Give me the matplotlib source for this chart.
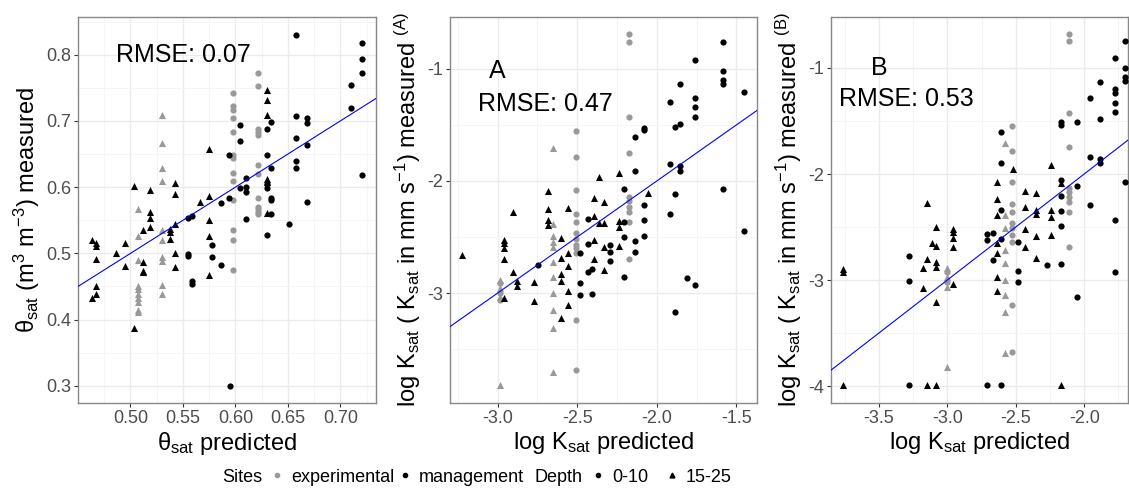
import matplotlib
matplotlib.use("Agg")
import matplotlib.pyplot as plt
from matplotlib.lines import Line2D
from matplotlib.ticker import MultipleLocator, FixedLocator, FormatStrFormatter
import numpy as np

plt.rcParams["font.family"] = ["Liberation Sans", "DejaVu Sans"]
plt.rcParams["mathtext.fontset"] = "custom"
plt.rcParams["mathtext.rm"] = "Liberation Sans"
plt.rcParams["mathtext.it"] = "Liberation Sans:italic"
plt.rcParams["axes.unicode_minus"] = False

# ---- panel 1: theta_sat (predicted, measured) ----
theta_exp_top = [(0.598, v) for v in [0.742, 0.723, 0.717, 0.705, 0.683, 0.649, 0.644, 0.621,
                                      0.609, 0.580, 0.536, 0.520, 0.475]] + \
                [(0.622, v) for v in [0.773, 0.753, 0.688, 0.684, 0.679, 0.634, 0.620, 0.583,
                                      0.570, 0.567, 0.562, 0.559]]
theta_exp_sub = [(0.507, v) for v in [0.567, 0.526, 0.490, 0.451, 0.446, 0.439, 0.433, 0.427,
                                      0.414, 0.411]] + \
                [(0.530, v) for v in [0.709, 0.666, 0.629, 0.609, 0.535, 0.520, 0.494, 0.489,
                                      0.452, 0.439]]
theta_man_sub = [(0.463, 0.520), (0.467, 0.516), (0.467, 0.511), (0.467, 0.491), (0.467, 0.451),
                 (0.467, 0.439), (0.463, 0.433), (0.486, 0.500), (0.495, 0.516), (0.495, 0.481),
                 (0.503, 0.601), (0.503, 0.388), (0.512, 0.536), (0.512, 0.487), (0.512, 0.474),
                 (0.512, 0.472), (0.519, 0.596), (0.519, 0.562), (0.519, 0.554), (0.519, 0.540),
                 (0.538, 0.537), (0.538, 0.533), (0.538, 0.522), (0.542, 0.545), (0.542, 0.607),
                 (0.542, 0.589), (0.542, 0.501), (0.542, 0.479), (0.566, 0.578), (0.575, 0.657),
                 (0.575, 0.587), (0.575, 0.551), (0.575, 0.526), (0.575, 0.468), (0.630, 0.746),
                 (0.630, 0.732), (0.630, 0.709), (0.630, 0.612), (0.630, 0.608), (0.630, 0.561)]
theta_man_top = [(0.555, 0.553), (0.559, 0.556), (0.555, 0.499), (0.555, 0.496), (0.559, 0.459),
                 (0.559, 0.453), (0.578, 0.512), (0.578, 0.495), (0.586, 0.576), (0.586, 0.483),
                 (0.594, 0.649), (0.594, 0.583), (0.595, 0.300), (0.604, 0.694), (0.604, 0.669),
                 (0.604, 0.598), (0.610, 0.614), (0.610, 0.600), (0.610, 0.593), (0.610, 0.552),
                 (0.630, 0.688), (0.630, 0.648), (0.630, 0.605), (0.630, 0.599), (0.630, 0.528),
                 (0.634, 0.698), (0.634, 0.629), (0.634, 0.583), (0.634, 0.580), (0.634, 0.560),
                 (0.651, 0.545), (0.658, 0.830), (0.658, 0.708), (0.658, 0.675), (0.658, 0.639),
                 (0.658, 0.629), (0.668, 0.705), (0.668, 0.697), (0.668, 0.664), (0.668, 0.578),
                 (0.710, 0.755), (0.710, 0.719), (0.721, 0.817), (0.721, 0.794), (0.721, 0.772),
                 (0.721, 0.619)]

# ---- panel 2: log Ksat, model A ----
ka_exp_sub = [(-2.985, -3.821), (-2.985, -2.884), (-2.985, -2.958), (-2.985, -3.033)] + \
             [(-2.652, v) for v in [-1.708, -2.387, -2.488, -2.542, -2.586, -2.720, -2.854,
                                    -3.003, -3.152, -3.310, -3.702]]
ka_exp_top = [(-2.985, -2.914), (-2.985, -3.003), (-2.985, -3.063)] + \
             [(-2.508, v) for v in [-1.554, -1.783, -2.080, -2.298, -2.363, -2.467, -2.518,
                                    -2.571, -2.601, -2.646, -3.241, -3.688]] + \
             [(-2.177, v) for v in [-0.690, -0.756, -1.432, -1.753, -2.140, -2.176, -2.229,
                                    -2.274, -2.363, -2.699]]
ka_man_sub = [(-3.222, -2.661), (-2.958, -2.527), (-2.958, -2.557), (-2.958, -2.601),
              (-2.958, -2.696), (-2.958, -3.048), (-2.905, -2.274), (-2.905, -2.810),
              (-2.878, -2.893), (-2.878, -2.935), (-2.772, -2.899), (-2.772, -3.071),
              (-2.684, -2.086), (-2.684, -2.253), (-2.684, -2.348), (-2.684, -2.393),
              (-2.605, -2.506), (-2.605, -2.690), (-2.605, -2.833), (-2.605, -2.893),
              (-2.605, -3.220), (-2.557, -2.244), (-2.557, -2.646), (-2.557, -2.756),
              (-2.557, -2.979), (-2.557, -3.107), (-2.392, -2.155), (-2.392, -2.313),
              (-2.392, -2.527), (-2.392, -2.699), (-2.361, -1.961), (-2.361, -2.378),
              (-2.335, -2.185), (-2.335, -2.378), (-2.335, -2.795), (-2.335, -2.592),
              (-2.236, -1.932), (-2.236, -2.354), (-2.236, -2.408), (-2.236, -2.577),
              (-2.057, -2.110)]
ka_man_top = [(-2.747, -2.750), (-2.483, -2.646), (-2.483, -2.914), (-2.483, -3.018),
              (-2.430, -2.342), (-2.430, -2.563), (-2.430, -2.815), (-2.405, -2.786),
              (-2.405, -3.012), (-2.297, -2.571), (-2.297, -2.637), (-2.297, -2.714),
              (-2.209, -2.071), (-2.209, -2.363), (-2.209, -2.503), (-2.209, -2.860),
              (-2.135, -1.610), (-2.135, -1.908), (-2.135, -2.533), (-2.135, -2.637),
              (-2.082, -1.530), (-2.082, -1.545), (-2.082, -2.214), (-2.082, -2.348),
              (-2.082, -2.491), (-1.918, -1.292), (-1.918, -1.848), (-1.918, -2.298),
              (-1.886, -1.521), (-1.886, -2.119), (-1.886, -3.167), (-1.857, -1.137),
              (-1.857, -1.491), (-1.857, -1.863), (-1.857, -1.908), (-1.812, -2.869),
              (-1.762, -0.920), (-1.762, -1.256), (-1.762, -1.342), (-1.762, -1.426),
              (-1.762, -2.929), (-1.582, -0.756), (-1.582, -1.015), (-1.582, -1.098),
              (-1.582, -1.134), (-1.582, -2.074), (-1.449, -1.208), (-1.449, -2.446)]

# ---- panel 3: log Ksat, model B ----
kb_exp_sub = [(-3.0, -2.890), (-3.0, -2.969), (-3.0, -3.063), (-3.0, -3.818)] + \
             [(-2.576, v) for v in [-1.711, -2.387, -2.513, -2.717, -2.843, -3.000, -3.142,
                                    -3.299, -3.692]]
kb_exp_top = [(-3.0, -2.921), (-3.0, -3.016)] + \
             [(-2.525, v) for v in [-1.544, -1.780, -2.072, -2.286, -2.355, -2.465, -2.513,
                                    -2.575, -2.638, -3.236, -3.682]] + \
             [(-2.108, v) for v in [-0.682, -0.745, -1.421, -1.742, -2.135, -2.167, -2.214,
                                    -2.261, -2.355, -2.686]]
kb_man_sub = [(-3.760, -2.896), (-3.760, -2.928), (-3.760, -3.991), (-3.181, -2.890),
              (-3.181, -3.072), (-3.147, -2.270), (-3.147, -2.802), (-3.147, -3.991),
              (-3.115, -2.654), (-3.083, -2.497), (-3.083, -2.676), (-3.083, -2.827),
              (-3.083, -2.881), (-3.083, -3.211), (-3.083, -3.991), (-2.956, -2.519),
              (-2.956, -2.544), (-2.956, -2.601), (-2.956, -2.686), (-2.956, -3.041),
              (-2.637, -2.072), (-2.637, -2.239), (-2.637, -2.387), (-2.637, -2.654),
              (-2.637, -2.748), (-2.637, -2.969), (-2.637, -3.104), (-2.522, -1.953),
              (-2.429, -2.157), (-2.429, -2.308), (-2.429, -2.519), (-2.429, -2.692),
              (-2.350, -2.182), (-2.350, -2.340), (-2.350, -2.377), (-2.350, -2.582),
              (-2.350, -2.789), (-2.245, -1.915), (-2.245, -2.340), (-2.245, -2.403),
              (-2.245, -2.575), (-2.172, -2.088), (-2.172, -3.991)]
kb_man_top = [(-3.282, -2.770), (-3.282, -3.006), (-3.282, -3.991), (-2.711, -2.569),
              (-2.711, -2.623), (-2.711, -3.991), (-2.669, -2.560), (-2.669, -2.811),
              (-2.608, -1.601), (-2.608, -1.893), (-2.608, -2.340), (-2.608, -2.616),
              (-2.608, -3.991), (-2.485, -2.645), (-2.485, -2.912), (-2.485, -3.016),
              (-2.270, -2.858), (-2.172, -1.506), (-2.172, -1.538), (-2.172, -2.057),
              (-2.172, -2.208), (-2.172, -2.349), (-2.172, -2.491), (-2.172, -2.852),
              (-2.049, -1.506), (-2.049, -2.110), (-2.049, -3.164), (-1.956, -1.280),
              (-1.956, -1.836), (-1.956, -2.292), (-1.882, -1.129), (-1.882, -1.481),
              (-1.882, -1.858), (-1.882, -1.899), (-1.772, -0.909), (-1.772, -1.198),
              (-1.772, -1.239), (-1.772, -1.333), (-1.772, -1.418), (-1.772, -2.434),
              (-1.772, -2.921), (-1.701, -0.742), (-1.701, -1.003), (-1.701, -1.088),
              (-1.701, -1.119), (-1.701, -2.072)]

rmse_labels = ["RMSE: 0.07", "RMSE: 0.47", "RMSE: 0.53"]

theta_xticks = [0.50, 0.55, 0.60, 0.65, 0.70]
theta_yticks = [0.3, 0.4, 0.5, 0.6, 0.7, 0.8]
ka_xticks = [-3.0, -2.5, -2.0, -1.5]
ka_yticks = [-3, -2, -1]
kb_xticks = [-3.5, -3.0, -2.5, -2.0]
kb_yticks = [-4, -3, -2, -1]

GRAY = "#999999"
W, H = 1129, 494

fig = plt.figure(figsize=(W / 100, H / 100), dpi=100)


def panel(rect, groups, xlim, ylim, xticks, yticks, xfmt, yfmt):
    ax = fig.add_axes(rect)
    for pts, color, marker, size in groups:
        arr = np.array(pts)
        ax.scatter(arr[:, 0], arr[:, 1], s=size, c=color, marker=marker,
                   linewidths=0, zorder=3)
    ax.axline((0, 0), slope=1, color="#0000FF", lw=0.8, zorder=4)
    ax.set_xlim(xlim)
    ax.set_ylim(ylim)
    xs = xticks[1] - xticks[0]
    ys = yticks[1] - yticks[0]
    ax.xaxis.set_major_locator(FixedLocator(xticks))
    ax.yaxis.set_major_locator(FixedLocator(yticks))
    ax.xaxis.set_minor_locator(MultipleLocator(xs / 2))
    ax.yaxis.set_minor_locator(MultipleLocator(ys / 2))
    ax.xaxis.set_major_formatter(FormatStrFormatter(xfmt))
    ax.yaxis.set_major_formatter(FormatStrFormatter(yfmt))
    ax.set_axisbelow(True)
    ax.grid(which="major", color="#EBEBEB", lw=1.0)
    ax.grid(which="minor", color="#F4F4F4", lw=0.6)
    ax.tick_params(which="major", length=3, width=0.8, color="#333333",
                   labelsize=13, labelcolor="#4D4D4D", pad=2)
    ax.tick_params(which="minor", length=0)
    for sp in ax.spines.values():
        sp.set_color("#888888")
        sp.set_linewidth(1.0)
    return ax


def groups_for(exp_top, exp_sub, man_top, man_sub):
    return [(exp_top, GRAY, "o", 20), (exp_sub, GRAY, "^", 26),
            (man_top, "black", "o", 20), (man_sub, "black", "^", 26)]


by = (H - 403) / H
bh = 386 / H

ax1 = panel([78 / W, by, 298 / W, bh],
            groups_for(theta_exp_top, theta_exp_sub, theta_man_top, theta_man_sub),
            (0.450, 0.734), (0.274, 0.857), theta_xticks, theta_yticks, "%.2f", "%.1f")
ax2 = panel([450 / W, by, 307 / W, bh],
            groups_for(ka_exp_top, ka_exp_sub, ka_man_top, ka_man_sub),
            (-3.30, -1.37), (-3.982, -0.536), ka_xticks, ka_yticks, "%.1f", "%.0f")
ax3 = panel([831 / W, by, 297 / W, bh],
            groups_for(kb_exp_top, kb_exp_sub, kb_man_top, kb_man_sub),
            (-3.85, -1.68), (-4.16, -0.519), kb_xticks, kb_yticks, "%.1f", "%.0f")

lab = dict(fontsize=17)
ax1.set_xlabel(r"$\mathregular{θ_{sat}}$ predicted", labelpad=2, **lab)
ax1.set_ylabel(r"$\mathregular{θ_{sat}\ (m^3\ m^{-3})}$ measured", labelpad=3, **lab)
ax2.set_xlabel(r"log $\mathregular{K_{sat}}$ predicted", labelpad=2, **lab)
ax2.set_ylabel(r"log $\mathregular{K_{sat}}$ ( $\mathregular{K_{sat}}$ in mm "
               r"$\mathregular{s^{-1}}$) measured $\mathregular{^{(A)}}$", labelpad=3, **lab)
ax3.set_xlabel(r"log $\mathregular{K_{sat}}$ predicted", labelpad=2, **lab)
ax3.set_ylabel(r"log $\mathregular{K_{sat}}$ ( $\mathregular{K_{sat}}$ in mm "
               r"$\mathregular{s^{-1}}$) measured $\mathregular{^{(B)}}$", labelpad=3, **lab)

ax1.text(0.55, 0.80, rmse_labels[0], fontsize=18, ha="center", va="center")
ax2.text(-3.0, -1.02, "A", fontsize=18, ha="center", va="center")
ax2.text(-2.70, -1.31, rmse_labels[1], fontsize=18, ha="center", va="center")
ax3.text(-3.5, -1.0, "B", fontsize=18, ha="center", va="center")
ax3.text(-3.30, -1.29, rmse_labels[2], fontsize=18, ha="center", va="center")

# bottom legend
ly = 1 - 477 / H
fig.text(222 / W, ly, "Sites", fontsize=13, va="center")
fig.text(535 / W, ly, "Depth", fontsize=13, va="center")
leg_kw = dict(loc="center left", ncol=2, frameon=False, fontsize=13,
              handlelength=0.7, handletextpad=0.4,
              borderpad=0, borderaxespad=0)
site_handles = [Line2D([], [], ls="none", marker="o", ms=3, color=GRAY),
                Line2D([], [], ls="none", marker="o", ms=3, color="black")]
fig.legend(site_handles, ["experimental", "management"], columnspacing=0.25,
           bbox_to_anchor=(271 / W, ly), **leg_kw)
depth_handles = [Line2D([], [], ls="none", marker="o", ms=3, color="black"),
                 Line2D([], [], ls="none", marker="^", ms=3.5, color="black")]
fig.legend(depth_handles, ["0-10", "15-25"], columnspacing=1.0,
           bbox_to_anchor=(592 / W, ly), **leg_kw)

fig.savefig("out.png", dpi=100)
